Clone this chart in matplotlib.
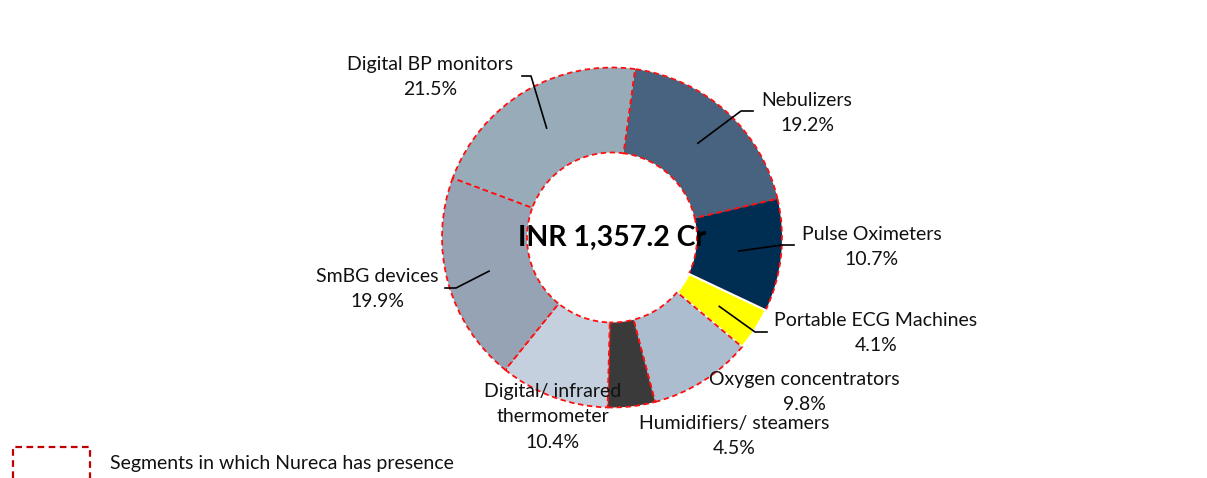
import matplotlib.pyplot as plt
import numpy as np

plt.rcParams['font.family'] = ['Lato', 'DejaVu Sans']

# data, clockwise from the top
segments = ["Nebulizers", "Pulse Oximeters", "Portable ECG Machines",
            "Oxygen concentrators", "Humidifiers/ steamers",
            "Digital/ infrared\nthermometer", "SmBG devices", "Digital BP monitors"]
shares = [19.2, 10.7, 4.1, 9.8, 4.5, 10.4, 19.9, 21.5]
colors = ["#48637F", "#002D52", "#FFFF00", "#ABBDCE", "#3A3A3A",
          "#C4D0DD", "#95A3B4", "#98ABB9"]
nureca = [True, True, False, True, True, True, True, True]
total_label = "INR 1,357.2 Cr"

W, H = 1207, 478
fig = plt.figure(figsize=(W / 100, H / 100), dpi=100)
ax = fig.add_axes([0, 0, 1, 1])

cx, cy, R = 612, H - 237.5, 170
start = 90 - 7.8
wedges, _ = ax.pie(shares, colors=colors, startangle=start, counterclock=False,
                   radius=R, center=(cx, cy), frame=True,
                   wedgeprops=dict(width=R * 0.5))
ax.set_xlim(0, W)
ax.set_ylim(0, H)
ax.set_aspect("equal")
ax.axis("off")
for w, has in zip(wedges, nureca):
    if has:
        w.set_edgecolor("#FF1010")
        w.set_linestyle((0, (3, 2)))
        w.set_linewidth(1.3)
    else:
        w.set_edgecolor("white")
        w.set_linewidth(1.5)

ax.text(cx, cy, total_label, ha="center", va="center", fontsize=20.5,
        fontweight="bold", color="black")

# label layout (image pixel coords): text centre, elbow points of leader
label_pos = {
    "Nebulizers": ((807, 113), [(741, 111), (753, 111)]),
    "Pulse Oximeters": ((872, 247), [(782, 245), (794, 245)]),
    "Portable ECG Machines": ((876, 333), [(755, 332), (767, 332)]),
    "Oxygen concentrators": ((804, 392), None),
    "Humidifiers/ steamers": ((734, 436), None),
    "Digital/ infrared\nthermometer": ((553, 417), None),
    "SmBG devices": ((377, 289), [(456, 288), (445, 288)]),
    "Digital BP monitors": ((430, 77), [(531, 76), (522, 76)]),
}

for w, name, share in zip(wedges, segments, shares):
    (tx, ty), elbow = label_pos[name]
    if elbow is not None:
        mid = np.deg2rad((w.theta1 + w.theta2) / 2)
        px = cx + 0.75 * R * np.cos(mid)
        py = cy + 0.75 * R * np.sin(mid)
        xs = [px] + [e[0] for e in elbow]
        ys = [py] + [H - e[1] for e in elbow]
        ax.plot(xs, ys, color="black", lw=1.2, zorder=5)
    ax.text(tx, H - ty, f"{name}\n{share:.1f}%", ha="center", va="center",
            fontsize=14, linespacing=1.6, color="#111111", zorder=6)

# legend box
ax.add_patch(plt.Rectangle((13, H - 490), 77, 490 - 447, fill=False,
                           edgecolor="#C00000", lw=1.6, ls=(0, (3, 2)),
                           clip_on=False))
ax.text(110, H - 464, "Segments in which Nureca has presence", ha="left",
        va="center", fontsize=14, color="#111111")

fig.savefig("out.png", dpi=100)
